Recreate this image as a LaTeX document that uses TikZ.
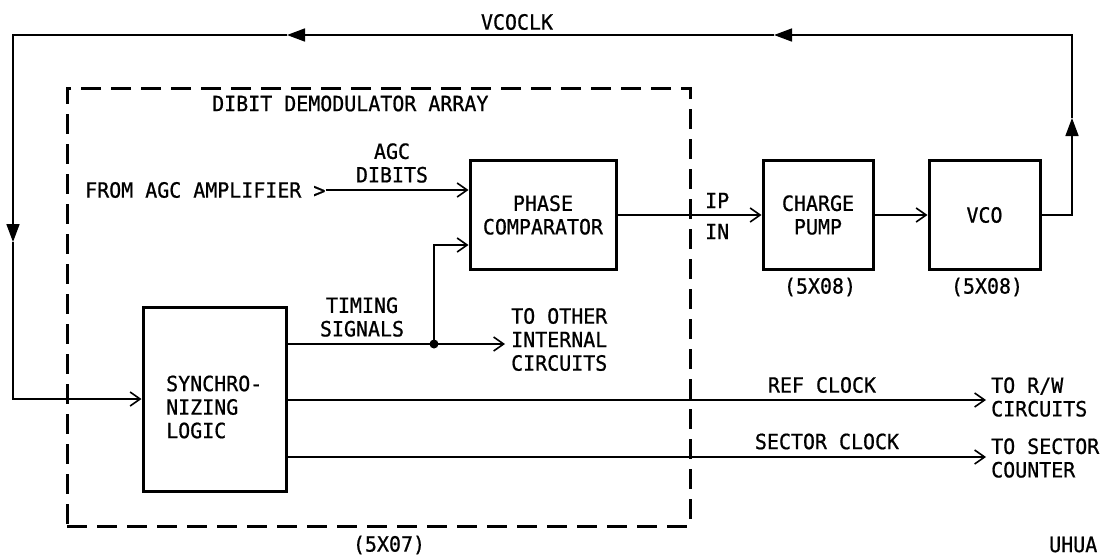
\documentclass[tikz,border=0pt]{standalone}
\usepackage{fontspec}
\setmainfont{DejaVu Sans Mono}[FakeStretch=0.95,FakeBold=0.8]
\usetikzlibrary{arrows.meta,calc}
\tikzset{
  triA/.tip={Triangle[length=18pt,width=13pt]},
  barbA/.tip={Straight Barb[length=10pt,width=14pt,line width=1.6pt]},
  wire/.style={line width=1.6pt, line join=miter},
  blk/.style={draw, line width=3pt, align=center},
  dashbox/.style={draw, line width=3pt, dash pattern=on 20pt off 10pt},
  lbl/.style={align=center},
}
\begin{document}
\begin{tikzpicture}[x=1pt,y=-1pt,
  every node/.style={font=\fontsize{21}{23.5}\selectfont, inner sep=0pt}]
\useasboundingbox (0,0) rectangle (1108,557);

% dashed array frame
\node[dashbox, minimum width=623pt, minimum height=438pt] (array) at (378.5,307) {};

% blocks
\node[blk, minimum width=146pt, minimum height=109pt] (pc) at (543,215) {PHASE\\COMPARATOR};
\node[blk, minimum width=110pt, minimum height=109pt] (cp) at (818,215) {CHARGE\\PUMP};
\node[blk, minimum width=111pt, minimum height=109pt] (vco) at (984.5,215) {VCO};
\node[blk, minimum width=143pt, minimum height=184pt] (sync) at (214.5,399) {};
\node[anchor=west, align=left] (synct) at (166,407) {SYNCHRO-\\NIZING\\LOGIC};

% labels
\node (vcoclk) at (517,22) {VCOCLK};
\node[anchor=west] (dda) at (212,103.5) {DIBIT DEMODULATOR ARRAY};
\node[anchor=west] (agcin) at (85,190) {FROM AGC AMPLIFIER >};
\node[lbl] (agcl) at (392,163) {AGC\\DIBITS};
\node[lbl] (tim) at (362,317) {TIMING\\SIGNALS};
\node[anchor=west, align=left] (oth) at (511,339.5) {TO OTHER\\INTERNAL\\CIRCUITS};
\node[anchor=west] (ipl) at (705,200.5) {IP};
\node[anchor=west] (inl) at (705,231.5) {IN};
\node (p1) at (820,287) {(5X08)};
\node (p2) at (987,287) {(5X08)};
\node (p3) at (389,545) {(5X07)};
\node (refl) at (822,385) {REF CLOCK};
\node[anchor=west, align=left] (rw) at (991,397) {TO R/W\\CIRCUITS};
\node (secl) at (827,441.5) {SECTOR CLOCK};
\node[anchor=west, align=left] (sec) at (991,458) {TO SECTOR\\COUNTER};
\node[anchor=base west] (uhua) at (1049,552) {UHUA};

% VCOCLK feedback loop
\coordinate (r1) at (1072,118);
\coordinate (t1) at (774,35);
\coordinate (t2) at (287,35);
\coordinate (l1) at (13,242);
\draw[wire, -triA] (vco.east) -| (r1);
\draw[wire, -triA] (r1) |- (t1);
\draw[wire, -triA] (t1) -- (t2);
\draw[wire, -triA] (t2) -| (l1);
\draw[wire, -barbA] (l1) |- (sync.west);

% AGC input
\draw[wire, -barbA] (agcin.east) -- (agcin.east -| pc.west);

% timing signals
\coordinate (dot) at (434,344);
\draw[wire] (dot -| sync.east) -- (dot);
\draw[wire, -barbA, shorten >=6pt] (dot) -- (dot -| oth.west);
\draw[wire, -barbA] (dot) |- (pc.west |- 0,245);
\fill (dot) circle (4.5pt);

% PLL chain
\draw[wire, -barbA] (pc.east) -- (cp.west);
\draw[wire, -barbA] (cp.east) -- (vco.west);

% clocks out
\draw[wire, -barbA, shorten >=5pt] (sync.east |- 0,400) -- (rw.west |- 0,400);
\draw[wire, -barbA, shorten >=5pt] (sync.east |- 0,457) -- (sec.west |- 0,457);
\end{tikzpicture}
\end{document}
